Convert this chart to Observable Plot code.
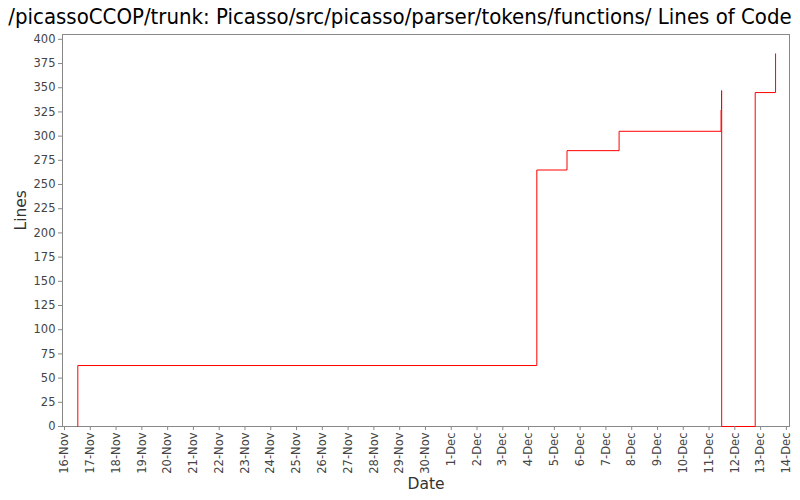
<!DOCTYPE html>
<html>
<head>
<meta charset="utf-8">
<script src="https://cdn.jsdelivr.net/npm/d3@7"></script>
<script src="https://cdn.jsdelivr.net/npm/@observablehq/plot@0.6"></script>
<style>
  html, body { margin: 0; padding: 0; background: #fff; }
  #title { height: 33px; width: 800px; text-align: center; font-family: "DejaVu Sans Condensed", "Liberation Sans", sans-serif; font-size: 22px; line-height: 33px; color: #000; white-space: nowrap; }
  #chart svg { display: block; }
</style>
</head>
<body>
<div id="title">/picassoCCOP/trunk: Picasso/src/picasso/parser/tokens/functions/ Lines of Code</div>
<div id="chart"></div>
<script>
const times = [
  "2008-11-16T12:23Z",
  "2008-11-16T12:24Z",
  "2008-12-04T07:40Z",
  "2008-12-05T11:46Z",
  "2008-12-07T12:15Z",
  "2008-12-11T11:10Z",
  "2008-12-11T11:35Z",
  "2008-12-11T11:45Z",
  "2008-12-12T18:57Z",
  "2008-12-13T13:55Z"
];
const lines = [0, 63, 265, 285, 305, 327, 347, 0, 345, 385];
const yTicks = [0, 25, 50, 75, 100, 125, 150, 175, 200, 225, 250, 275, 300, 325, 350, 375, 400];
const xStart = "2008-11-16T00:00Z";
const xEnd = "2008-12-14T00:00Z";

const data = times.map((t, i) => ({date: new Date(t), lines: lines[i]}));
const xTicks = d3.utcDay.range(new Date(xStart), d3.utcDay.offset(new Date(xEnd), 1));

const chart = Plot.plot({
  width: 800,
  height: 467,
  marginTop: 1,
  marginLeft: 62,
  marginRight: 11,
  marginBottom: 74,
  style: {fontFamily: "DejaVu Sans, sans-serif", fontSize: "11.5px", color: "#444", background: "#fff"},
  x: {
    type: "utc",
    domain: [new Date("2008-11-15T22:08Z"), new Date("2008-12-14T02:53Z")],
    label: null
  },
  y: {
    domain: [0, 405],
    label: null
  },
  marks: [
    Plot.frame({stroke: "#888"}),
    Plot.line(data, {x: "date", y: "lines", curve: "step-after", stroke: "red", strokeWidth: 1}),
    Plot.axisX({ticks: xTicks, tickFormat: d3.utcFormat("%-d-%b"), tickRotate: -90, tickSize: 4, tickPadding: 2, stroke: "#888", label: null}),
    Plot.axisY({ticks: yTicks, tickSize: 4, tickPadding: 3, stroke: "#888", label: null}),
    Plot.text(["Date"], {frameAnchor: "bottom", dy: 62, fontSize: 15.5, fill: "#333"}),
    Plot.text(["Lines"], {frameAnchor: "left", dx: -41, rotate: -90, fontSize: 15.5, fill: "#333"})
  ]
});
document.getElementById("chart").appendChild(chart);
</script>
</body>
</html>
